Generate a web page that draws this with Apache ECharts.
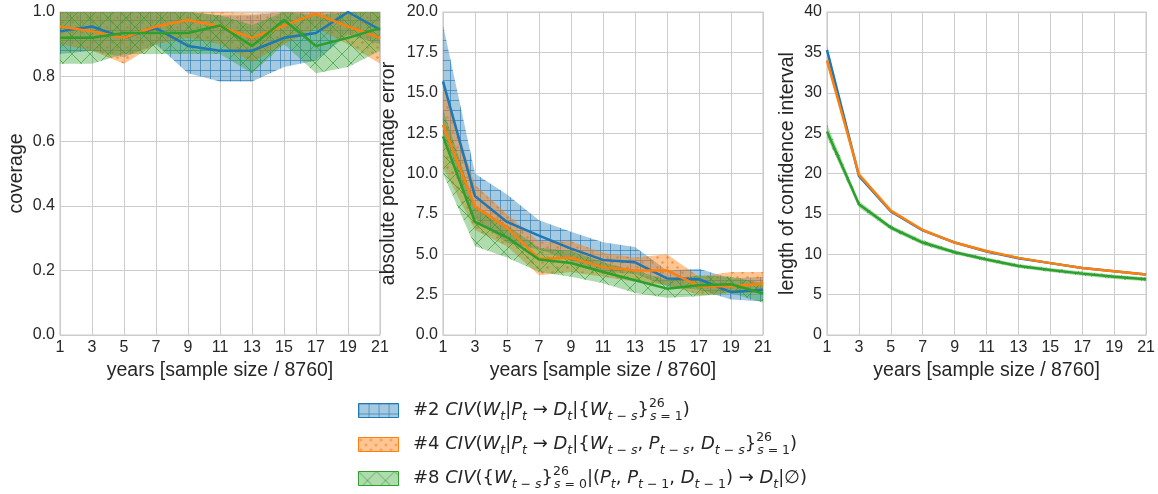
<!DOCTYPE html>
<html><head><meta charset="utf-8">
<script src="https://cdn.jsdelivr.net/npm/echarts@6/dist/echarts.min.js"></script>
<style>html,body{margin:0;padding:0;background:#fff}#c{width:1158px;height:494px}</style>
</head><body><div id="c"></div>
<script>
const years = ['1','3','5','7','9','11','13','15','17','19','21'];

// Panel 1: coverage
const covBlue   = [0.94,0.955,0.92,0.95,0.895,0.88,0.88,0.92,0.935,1.00,0.945];
const covBlueLo = [0.87,0.88,0.86,0.90,0.81,0.785,0.785,0.83,0.85,0.93,0.90];
const covBlueHi = [1.00,1.00,1.00,1.00,1.00,0.99,0.99,1.00,1.00,1.00,1.00];
const covOrange   = [0.955,0.94,0.92,0.955,0.975,0.955,0.92,0.958,0.995,0.955,0.92];
const covOrangeLo = [0.90,0.88,0.84,0.90,0.92,0.90,0.845,0.90,0.95,0.90,0.84];
const covOrangeHi = [1.00,1.00,1.00,1.00,1.00,1.00,0.995,1.00,1.00,1.00,1.00];
const covGreen   = [0.92,0.92,0.935,0.935,0.935,0.958,0.895,0.975,0.895,0.92,0.95];
const covGreenLo = [0.84,0.84,0.87,0.87,0.87,0.87,0.81,0.90,0.81,0.83,0.88];
const covGreenHi = [1.00,1.00,1.00,1.00,1.00,0.99,0.96,1.00,0.99,1.00,1.00];

// Panel 2: absolute percentage error
const apeBlue   = [15.7,8.6,7.0,6.15,5.35,4.65,4.5,3.5,3.45,2.65,2.8];
const apeBlueLo = [12.5,7.2,5.7,5.3,4.6,3.9,3.8,3.0,2.8,2.2,2.1];
const apeBlueHi = [19.2,10.0,8.7,7.1,6.4,5.75,5.45,4.0,4.1,3.5,3.6];
const apeOrange   = [13.0,7.95,6.65,4.72,4.78,4.2,4.0,4.0,3.02,3.02,3.18];
const apeOrangeLo = [10.4,6.5,5.5,3.7,3.9,3.6,3.3,3.1,2.5,2.6,2.6];
const apeOrangeHi = [15.4,9.3,7.5,5.8,5.8,5.1,4.8,5.0,3.6,3.9,3.9];
const apeGreen   = [12.3,7.0,6.05,4.68,4.46,3.9,3.39,2.87,3.08,3.14,2.57];
const apeGreenLo = [10.0,5.5,4.8,3.9,3.6,3.2,2.6,2.3,2.4,2.6,2.0];
const apeGreenHi = [14.0,8.0,6.8,5.4,5.2,4.5,4.0,3.4,3.7,3.6,3.2];

// Panel 3: length of confidence interval
const lenBlue   = [35.3,19.7,15.3,12.95,11.45,10.35,9.5,8.9,8.3,7.9,7.5];
const lenBlueLo = [34.8,19.5,15.2,12.85,11.35,10.25,9.4,8.8,8.2,7.8,7.4];
const lenBlueHi = [35.8,19.95,15.45,13.05,11.55,10.45,9.6,9.0,8.4,8.0,7.6];
const lenOrange   = [34.0,19.9,15.4,13.0,11.45,10.4,9.55,8.9,8.3,7.9,7.5];
const lenOrangeLo = [33.6,19.75,15.3,12.9,11.35,10.3,9.45,8.8,8.2,7.8,7.4];
const lenOrangeHi = [34.4,20.05,15.5,13.1,11.55,10.5,9.65,9.0,8.4,8.0,7.6];
const lenGreen   = [25.2,16.2,13.3,11.45,10.25,9.35,8.55,8.05,7.6,7.2,6.9];
const lenGreenLo = [24.5,15.8,13.0,11.15,10.0,9.1,8.3,7.8,7.35,6.95,6.65];
const lenGreenHi = [26.1,16.6,13.6,11.75,10.5,9.6,8.8,8.3,7.85,7.45,7.15];

const covTicks = {min:0, max:1, interval:0.2, dec:1};
const apeTicks = {min:0, max:20, interval:2.5, dec:1};
const lenTicks = {min:0, max:40, interval:5, dec:0};

const BLUE='#1f77b4', ORANGE='#ff7f0e', GREEN='#2ca02c';
const FONT = '"Liberation Sans", Arial, sans-serif';
const TXT = '#262626';

function tile(kind){
  const c=document.createElement('canvas');
  if(kind==='blue'){
    c.width=10;c.height=10;const g=c.getContext('2d');
    g.fillStyle='rgba(31,119,180,0.4)';g.fillRect(0,0,10,10);
    g.strokeStyle='rgba(31,119,180,0.6)';g.lineWidth=1;
    g.beginPath();g.moveTo(0,0.5);g.lineTo(10,0.5);g.moveTo(0.5,0);g.lineTo(0.5,10);g.stroke();
  } else if(kind==='orange'){
    c.width=10;c.height=10;const g=c.getContext('2d');
    g.fillStyle='rgba(255,127,14,0.45)';g.fillRect(0,0,10,10);
    g.fillStyle='rgba(225,115,20,0.6)';
    g.beginPath();g.arc(2.5,2.5,1.2,0,Math.PI*2);g.fill();
    g.beginPath();g.arc(7.5,7.5,1.2,0,Math.PI*2);g.fill();
  } else {
    c.width=18;c.height=18;const g=c.getContext('2d');
    g.fillStyle='rgba(44,160,44,0.38)';g.fillRect(0,0,18,18);
    g.strokeStyle='rgba(44,160,44,0.65)';g.lineWidth=1;
    g.beginPath();g.moveTo(0,0);g.lineTo(18,18);g.moveTo(18,0);g.lineTo(0,18);g.stroke();
  }
  return c;
}
const pat = {
  blue:{image:tile('blue'),repeat:'repeat'},
  orange:{image:tile('orange'),repeat:'repeat'},
  green:{image:tile('green'),repeat:'repeat'}
};

const gridLefts=[60,443,827];
const grids = gridLefts.map(l=>({left:l, top:12, width:320, height:323, show:true, borderColor:'#cccccc', borderWidth:1.2, backgroundColor:'#fff'}));

const xAxes = gridLefts.map((l,i)=>({
  type:'category', gridIndex:i, data:years, boundaryGap:false,
  name:'years [sample size / 8760]', nameLocation:'middle', nameGap:24,
  nameTextStyle:{fontSize:19.5, color:TXT, fontFamily:FONT},
  axisLine:{show:false}, axisTick:{show:false},
  axisLabel:{interval:0, fontSize:16, color:TXT, fontFamily:FONT, margin:5},
  splitLine:{show:true, interval:0, lineStyle:{color:'#cccccc', width:1}}
}));
const yNames=['coverage','absolute percentage error','length of confidence interval'];
const yTicks=[covTicks,apeTicks,lenTicks];
const yGaps=[33,44,29];
const yAxes = yTicks.map((t,i)=>({
  type:'value', gridIndex:i, min:t.min, max:t.max, interval:t.interval,
  name:yNames[i], nameLocation:'middle', nameGap:yGaps[i],
  nameTextStyle:{fontSize:19.5, color:TXT, fontFamily:FONT},
  axisLine:{show:false}, axisTick:{show:false},
  axisLabel:{fontSize:16, color:TXT, fontFamily:FONT, margin:5, formatter:v=>v.toFixed(t.dec)},
  splitLine:{show:true, lineStyle:{color:'#cccccc', width:1}}
}));

const series=[];
function band(gi, lo, hi, p, name){
  const st = name+gi;
  series.push({type:'line', xAxisIndex:gi, yAxisIndex:gi, stack:st, data:lo, showSymbol:false, symbol:'none',
    lineStyle:{opacity:0, width:0}, silent:true, z:2});
  series.push({type:'line', xAxisIndex:gi, yAxisIndex:gi, stack:st, data:hi.map((h,k)=>+(h-lo[k]).toFixed(4)),
    showSymbol:false, symbol:'none', lineStyle:{opacity:0, width:0}, areaStyle:{color:p, opacity:1}, silent:true, z:2});
}
function line(gi, d, color){
  series.push({type:'line', xAxisIndex:gi, yAxisIndex:gi, data:d, showSymbol:false, symbol:'none',
    lineStyle:{color:color, width:2.5}, itemStyle:{color:color}, silent:true, z:3});
}
const panels=[
  [[covBlue,covBlueLo,covBlueHi],[covOrange,covOrangeLo,covOrangeHi],[covGreen,covGreenLo,covGreenHi]],
  [[apeBlue,apeBlueLo,apeBlueHi],[apeOrange,apeOrangeLo,apeOrangeHi],[apeGreen,apeGreenLo,apeGreenHi]],
  [[lenBlue,lenBlueLo,lenBlueHi],[lenOrange,lenOrangeLo,lenOrangeHi],[lenGreen,lenGreenLo,lenGreenHi]]
];
const pats=[pat.blue,pat.orange,pat.green], cols=[BLUE,ORANGE,GREEN], nm=['b','o','g'];
panels.forEach((pn,gi)=>{ pn.forEach((s,k)=>band(gi,s[1],s[2],pats[k],nm[k])); });
panels.forEach((pn,gi)=>{ pn.forEach((s,k)=>line(gi,s[0],cols[k])); });

const MF='"DejaVu Sans", sans-serif';
const rich={
  n:{fontSize:18, fontFamily:MF, fill:TXT, lineHeight:26},
  i:{fontSize:18, fontFamily:MF, fontStyle:'italic', fill:TXT, lineHeight:26},
  s:{fontSize:12.5, fontFamily:MF, fontStyle:'italic', fill:TXT, lineHeight:14, verticalAlign:'bottom'},
  sn:{fontSize:12.5, fontFamily:MF, fill:TXT, lineHeight:14, verticalAlign:'bottom'},
  p:{fontSize:12.5, fontFamily:MF, fill:TXT, lineHeight:14, verticalAlign:'top', width:1}
};
const legendTexts=[
  "{n|#2 }{i|CIV}{n|(}{i|W}{s|t}{n||}{i|P}{s|t}{n| → }{i|D}{s|t}{n||{}{i|W}{s|t}{sn| − }{s|s}}{p|26}{s|s}{sn| = 1}{n|)}",
  "{n|#4 }{i|CIV}{n|(}{i|W}{s|t}{n||}{i|P}{s|t}{n| → }{i|D}{s|t}{n||{}{i|W}{s|t}{sn| − }{s|s}{n|, }{i|P}{s|t}{sn| − }{s|s}{n|, }{i|D}{s|t}{sn| − }{s|s}}{p|26}{s|s}{sn| = 1}{n|)}",
  "{n|#8 }{i|CIV}{n|({}{i|W}{s|t}{sn| − }{s|s}}{p|26}{s|s}{sn| = 0}{n||(}{i|P}{s|t}{n|, }{i|P}{s|t}{sn| − 1}{n|, }{i|D}{s|t}{sn| − 1}{n|) → }{i|D}{s|t}{n||∅)}"
];
const legY=[403,437,471];
const graphic=[];
legendTexts.forEach((t,k)=>{
  graphic.push({type:'rect', left:358, top:legY[k], shape:{width:40,height:14},
    style:{fill:pats[k], stroke:cols[k], lineWidth:1}});
  graphic.push({type:'text', left:413, top:legY[k]-6,
    style:{text:t, rich:rich, fontSize:18, fontFamily:MF, fill:TXT, lineHeight:26}});
});

const chart=echarts.init(document.getElementById('c'),null,{renderer:'canvas'});
chart.setOption({animation:false, backgroundColor:'#fff', grid:grids, xAxis:xAxes, yAxis:yAxes, series:series, graphic:graphic});
</script></body></html>
